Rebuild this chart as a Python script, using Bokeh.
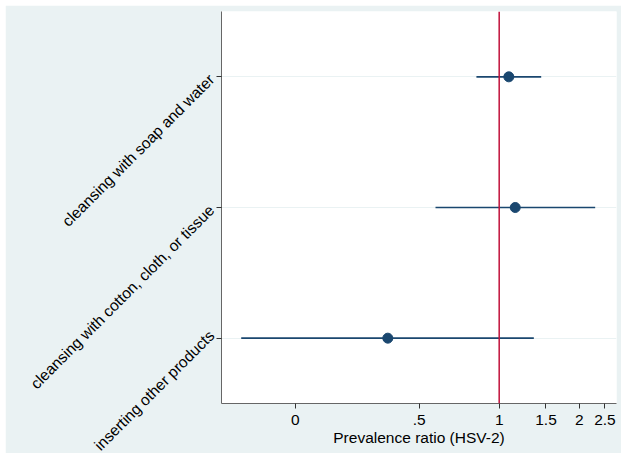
import math
from bokeh.plotting import figure
from bokeh.models import FixedTicker, Span, FactorRange, Range1d
from bokeh.embed import file_html
from bokeh.resources import INLINE

# Data
categories = ["inserting other products",
              "cleansing with cotton, cloth, or tissue",
              "cleansing with soap and water"]
estimate = [0.381, 1.149, 1.087]
ci_low = [0.107, 0.576, 0.821]
ci_high = [1.35, 2.297, 1.439]

x_ticks = [0.171, 0.5, 1, 1.5, 2, 2.5]
x_tick_labels = ["0", ".5", "1", "1.5", "2", "2.5"]

FONT = "Liberation Sans"
NAVY = "#1a476f"
RED = "#c0103a"
BG = "#eaf2f3"

p = figure(width=616, height=448, output_backend="svg", toolbar_location=None,
           x_axis_type="log", x_range=Range1d(0.0902, 2.763),
           y_range=FactorRange(factors=categories, range_padding=0),
           min_border_left=216, min_border_right=5, min_border_top=6, min_border_bottom=50)
p.margin = (5, 5, 5, 5)

p.background_fill_color = "white"
p.border_fill_color = BG
p.outline_line_color = None

p.segment(x0=ci_low, y0=categories, x1=ci_high, y1=categories,
          line_color=NAVY, line_width=1.6)
p.scatter(x=estimate, y=categories, size=10, fill_color=NAVY, line_color=NAVY)

p.add_layout(Span(location=1, dimension="height", line_color=RED, line_width=1.5))

# x axis
p.xaxis.ticker = FixedTicker(ticks=x_ticks)
p.xaxis.major_label_overrides = {t: l for t, l in zip(x_ticks, x_tick_labels)}
p.xaxis.minor_tick_line_color = None
p.xaxis.axis_label = "Prevalence ratio (HSV-2)"
p.xaxis.axis_label_text_font = FONT
p.xaxis.axis_label_text_font_style = "normal"
p.xaxis.axis_label_text_font_size = "15.5px"
p.xaxis.axis_label_text_color = "black"
p.xaxis.axis_label_standoff = 1
p.xaxis.major_label_text_font = FONT
p.xaxis.major_label_text_font_size = "15.5px"
p.xaxis.major_label_text_color = "black"
p.xaxis.major_label_standoff = 6
p.xaxis.major_tick_out = 5
p.xaxis.major_tick_in = 0
p.xaxis.axis_line_color = "#666666"
p.xaxis.major_tick_line_color = "#333333"

# y axis
p.yaxis.major_label_orientation = math.pi / 4
p.yaxis.major_label_text_font = FONT
p.yaxis.major_label_text_font_size = "15.5px"
p.yaxis.major_label_text_color = "black"
p.yaxis.major_label_standoff = 5
p.yaxis.major_tick_out = 5
p.yaxis.major_tick_in = 0
p.yaxis.axis_line_color = "#666666"
p.yaxis.major_tick_line_color = "#333333"

p.xgrid.grid_line_color = None
p.ygrid.grid_line_color = BG
p.ygrid.grid_line_width = 1

open("out.html", "w").write(file_html(p, INLINE))
